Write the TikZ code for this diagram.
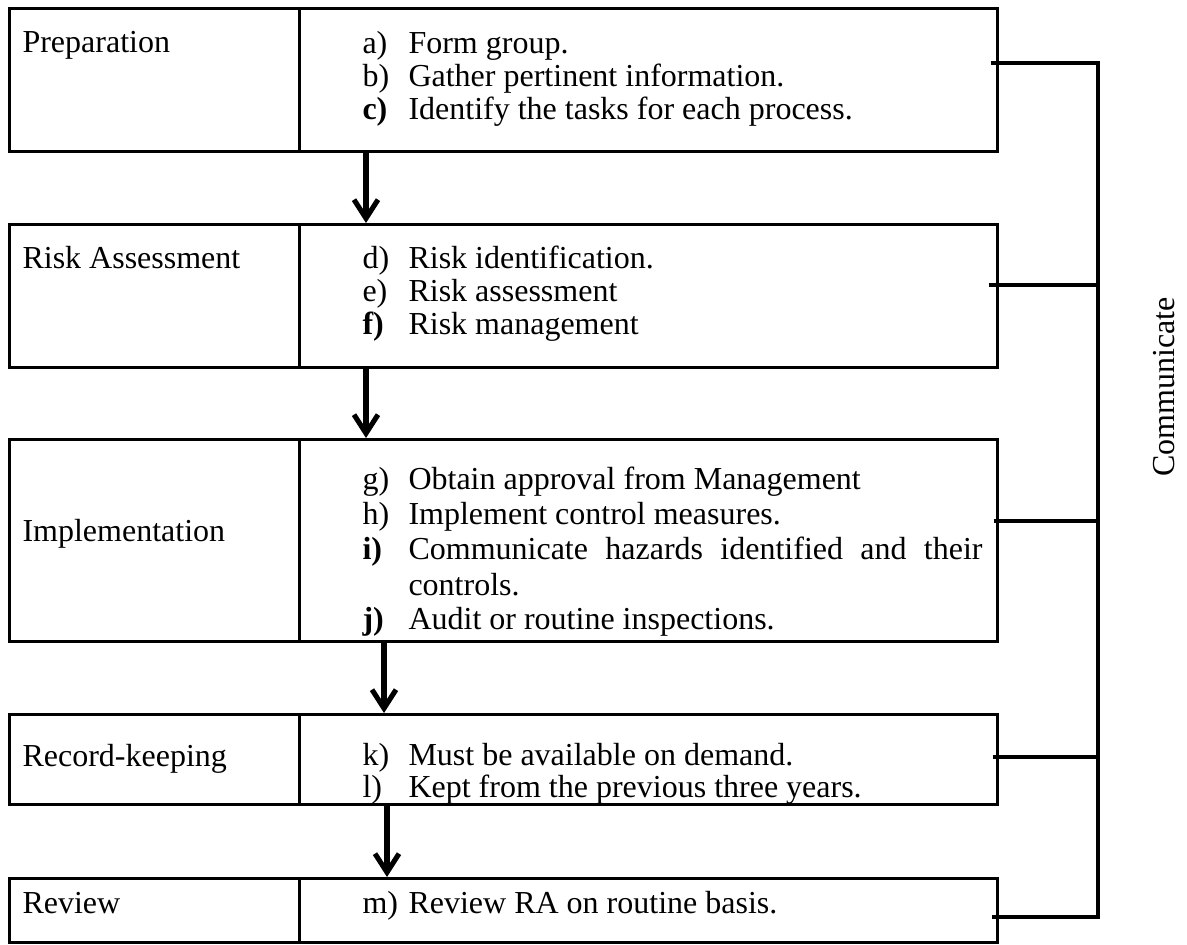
\documentclass[tikz,border=0pt]{standalone}
\usepackage{fontspec}
\setmainfont{Liberation Serif}
\usetikzlibrary{arrows.meta,calc}
\newlength{\pxu}
\setlength{\pxu}{0.375pt}
\newcommand{\itlab}[1]{\makebox[46\pxu][l]{#1}}

\begin{document}
\begin{tikzpicture}[x=0.375pt,y=-0.375pt,
    cell/.style={rectangle,draw,line width=1pt,inner sep=0pt,anchor=north west},
    txt/.style={anchor=base west,inner sep=0pt,font=\fontsize{12}{13}\selectfont},
    arr/.style={-{Straight Barb[length=7pt,width=9pt]},line width=1.9pt},
    bus/.style={line width=1.7pt},
]
\useasboundingbox (0,0) rectangle (1187,944);

% Row 1: Preparation
\node[cell,minimum width=290*\pxu,minimum height=143*\pxu] (prepL) at (8,7) {};
\node[cell,minimum width=698*\pxu,minimum height=143*\pxu] (prepR) at (298,7) {};
\node[txt] (prepT) at (22,52) {Preparation};
\node[txt] (itA) at (362,53) {\itlab{a)}Form group.};
\node[txt] (itB) at (362,86) {\itlab{b)}Gather pertinent information.};
\node[txt] (itC) at (362,119) {\itlab{\textbf{c)}}Identify the tasks for each process.};

% Row 2: Risk Assessment
\node[cell,minimum width=290*\pxu,minimum height=143*\pxu] (riskL) at (8,223) {};
\node[cell,minimum width=698*\pxu,minimum height=143*\pxu] (riskR) at (298,223) {};
\node[txt] (riskT) at (22,268) {Risk Assessment};
\node[txt] (itD) at (362,268) {\itlab{d)}Risk identification.};
\node[txt] (itE) at (362,301) {\itlab{e)}Risk assessment};
\node[txt] (itF) at (362,334) {\itlab{\textbf{f)}}Risk management};

% Row 3: Implementation
\node[cell,minimum width=290*\pxu,minimum height=202*\pxu] (implL) at (8,438) {};
\node[cell,minimum width=698*\pxu,minimum height=202*\pxu] (implR) at (298,438) {};
\node[txt] (implT) at (22,541) {Implementation};
\node[txt] (itG) at (362,489) {\itlab{g)}Obtain approval from Management};
\node[txt] (itH) at (362,524) {\itlab{h)}Implement control measures.};
\node[txt] (itI) at (362,559) {\itlab{\textbf{i)}}\makebox[574\pxu][s]{Communicate hazards identified and their}};
\node[txt] (itI2) at (408,595) {controls.};
\node[txt] (itJ) at (362,629) {\itlab{\textbf{j)}}Audit or routine inspections.};

% Row 4: Record-keeping
\node[cell,minimum width=290*\pxu,minimum height=90*\pxu] (recL) at (8,713) {};
\node[cell,minimum width=698*\pxu,minimum height=90*\pxu] (recR) at (298,713) {};
\node[txt] (recT) at (22,766) {Record-keeping};
\node[txt] (itK) at (362,765) {\itlab{k)}Must be available on demand.};
\node[txt] (itL) at (362,797) {\itlab{l)}Kept from the previous three years.};

% Row 5: Review
\node[cell,minimum width=290*\pxu,minimum height=64*\pxu] (revL) at (8,877) {};
\node[cell,minimum width=698*\pxu,minimum height=64*\pxu] (revR) at (298,877) {};
\node[txt] (revT) at (22,913) {Review};
\node[txt] (itM) at (362,913) {\itlab{m)}Review RA on routine basis.};

% Flow arrows
\draw[arr] ($(prepR.south west)+(68,0)$) -- ($(riskR.north west)+(68,0)$);
\draw[arr] ($(riskR.south west)+(68,0)$) -- ($(implR.north west)+(68,0)$);
\draw[arr] ($(implR.south west)+(86,0)$) -- ($(recR.north west)+(86,0)$);
\draw[arr] ($(recR.south west)+(89,0)$) -- ($(revR.north west)+(89,0)$);

% Communicate bus
\coordinate (c1) at (1098,63);
\coordinate (c2) at (1098,285);
\coordinate (c3) at (1098,521);
\coordinate (c4) at (1098,757);
\coordinate (c5) at (1098,917);
\draw[bus] ($(c1 -| prepR.east)+(-8,0)$) -- (c1) -- (c5) -- ($(c5 -| revR.east)+(-7,0)$);
\draw[bus] ($(c2 -| riskR.east)+(-10,0)$) -- (c2);
\draw[bus] ($(c3 -| implR.east)+(-5,0)$) -- ($(c3)+(2,0)$);
\draw[bus] ($(c4 -| recR.east)+(-6,0)$) -- (c4);
\node[rotate=90,inner sep=0pt,font=\fontsize{12}{13}\selectfont] (comm) at (1164,387) {Communicate};
\end{tikzpicture}
\end{document}
